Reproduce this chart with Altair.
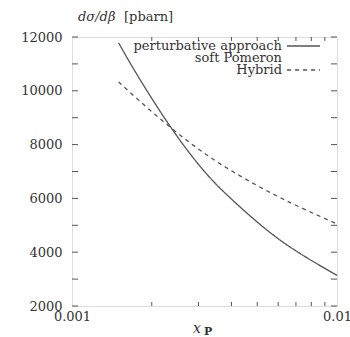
import altair as alt
import pandas as pd

# Differential cross section vs. x_P (log axis)
x_pert = [0.0015, 0.0018, 0.0024, 0.0032, 0.0042, 0.0062, 0.0100]
y_pert = [11780, 10440, 8540, 6940, 5780, 4400, 3140]

x_hyb = [0.0015, 0.0018, 0.0024, 0.0032, 0.0042, 0.0062, 0.0100]
y_hyb = [10330, 9620, 8570, 7640, 6900, 5995, 5050]

series_names = ["perturbative approach", "Hybrid"]
legend_labels = ["perturbative approach", "soft Pomeron", "Hybrid"]

y_ticks = [2000, 3000, 4000, 5000, 6000, 7000, 8000, 9000, 10000, 11000, 12000]
x_labels = [0.001, 0.01]
x_minor = [0.002, 0.003, 0.004, 0.005, 0.006, 0.007, 0.008, 0.009]

W, H = 265, 269
FONT = "DejaVu Serif"
INK = "#333333"
LINE = "#555555"

curves = pd.DataFrame(
    {
        "x": x_pert + x_hyb,
        "y": y_pert + y_hyb,
        "series": [series_names[0]] * len(x_pert) + [series_names[1]] * len(x_hyb),
    }
)
yt = pd.DataFrame({"v": y_ticks})
xm = pd.DataFrame({"v": x_minor})

xs = alt.Scale(type="log", domain=[0.001, 0.01], nice=False)
ys = alt.Scale(domain=[2000, 12000], nice=False, zero=False)

lines = alt.Chart(curves).mark_line(
    color=LINE, strokeWidth=1.3, interpolate="natural"
).encode(
    x=alt.X(
        "x:Q",
        scale=xs,
        axis=alt.Axis(
            values=x_labels, format=".3~f", tickSize=0, domain=False, grid=False,
            labelPadding=4, labelFont=FONT, labelFontSize=13, labelColor=INK,
            labelFlush=False, labelOverlap=False, title=None,
        ),
    ),
    y=alt.Y(
        "y:Q",
        scale=ys,
        axis=alt.Axis(
            values=y_ticks, format="d", tickSize=0, domain=False, grid=False,
            labelPadding=10, labelFont=FONT, labelFontSize=13, labelColor=INK,
            labelOverlap=False, labelFlush=False, title=None,
        ),
    ),
    strokeDash=alt.StrokeDash(
        "series:N",
        scale=alt.Scale(domain=series_names, range=[[1, 0], [4, 4]]),
        legend=None,
    ),
    detail="series:N",
)

# inward ticks on left/right (major) and bottom/top (minor, log)
tick_style = dict(color=LINE, strokeWidth=1)
left_ticks = alt.Chart(yt).mark_rule(**tick_style).encode(
    y=alt.Y("v:Q", scale=ys), x=alt.value(0), x2=alt.value(6)
)
right_ticks = alt.Chart(yt).mark_rule(**tick_style).encode(
    y=alt.Y("v:Q", scale=ys), x=alt.value(W), x2=alt.value(W - 6)
)
bottom_ticks = alt.Chart(xm).mark_rule(**tick_style).encode(
    x=alt.X("v:Q", scale=xs), y=alt.value(H), y2=alt.value(H - 4)
)
top_ticks = alt.Chart(xm).mark_rule(**tick_style).encode(
    x=alt.X("v:Q", scale=xs), y=alt.value(0), y2=alt.value(4)
)

# legend block (top right, text right-aligned with line samples)
def legend_text(label, ypix):
    return alt.Chart(pd.DataFrame({"t": [label]})).mark_text(
        font=FONT, fontSize=13, color=INK, align="right", baseline="middle"
    ).encode(text="t:N", x=alt.value(210), y=alt.value(ypix))

leg_rows = [9, 21, 33]
legend = [legend_text(lbl, yp) for lbl, yp in zip(legend_labels, leg_rows)]
leg_solid = alt.Chart(pd.DataFrame({"s": [series_names[0]]})).mark_rule(
    color=LINE, strokeWidth=1.3
).encode(x=alt.value(215), x2=alt.value(248), y=alt.value(leg_rows[0]))
leg_dash = alt.Chart(pd.DataFrame({"s": [series_names[1]]})).mark_rule(
    color=LINE, strokeWidth=1.3, strokeDash=[4, 4]
).encode(x=alt.value(215), x2=alt.value(248), y=alt.value(leg_rows[2]))

# axis titles
def label(text, xpix, ypix, size=12, style="normal", weight="normal", align="left"):
    return alt.Chart(pd.DataFrame({"t": [text]})).mark_text(
        font=FONT, fontSize=size, fontStyle=style, fontWeight=weight,
        color=INK, align=align, baseline="middle",
    ).encode(text="t:N", x=alt.value(xpix), y=alt.value(ypix))

y_title_a = label("dσ/dβ", 6, -20, size=13, style="italic")
y_title_b = label("[pbarn]", 52, -20, size=13)
x_title_a = label("x", 121, H + 23, size=14, style="italic")
x_title_b = label("P", 132, H + 26, size=11, weight="bold")

chart = alt.layer(
    lines, left_ticks, right_ticks, bottom_ticks, top_ticks,
    *legend, leg_solid, leg_dash,
    y_title_a, y_title_b, x_title_a, x_title_b,
).properties(
    width=W, height=H,
    autosize=alt.AutoSizeParams(type="none"),
    padding={"left": 72, "top": 37, "right": 13, "bottom": 31},
).configure_view(
    stroke=LINE, strokeWidth=1.5
).configure(background="white")

chart.save("out.html", embed_options={"renderer": "svg", "actions": False})
